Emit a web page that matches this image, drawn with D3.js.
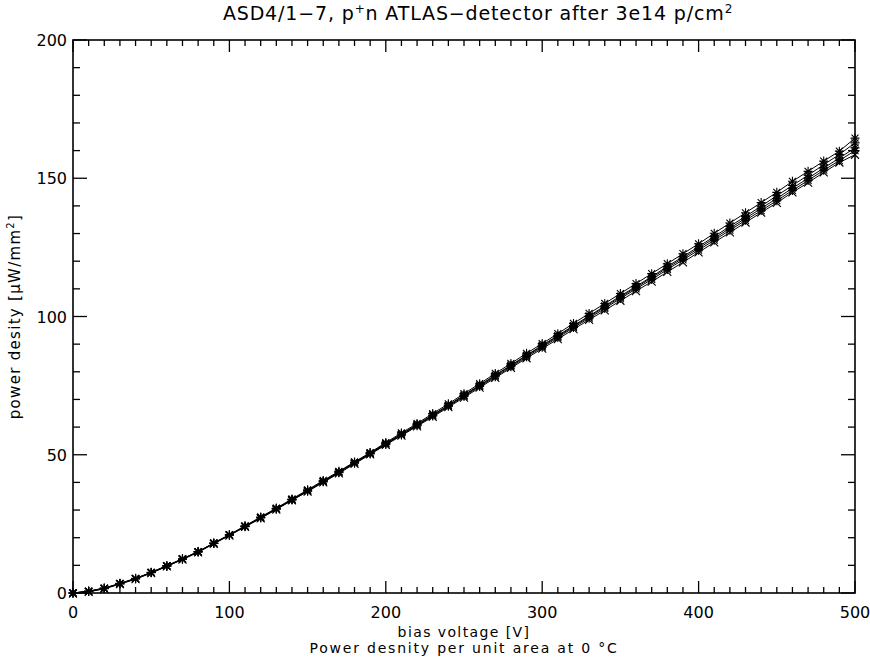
<!DOCTYPE html>
<html lang="en">
<head>
<meta charset="utf-8">
<style>
  body { margin: 0; background: #fff; }
  svg { display: block; }
  text { font-family: "DejaVu Sans", sans-serif; fill: #000; }
</style>
</head>
<body>
<svg width="870" height="659"></svg>
<script src="https://cdn.jsdelivr.net/npm/d3@7"></script>
<script>
// bias voltage [V]
var voltage = [0, 10, 20, 30, 40, 50, 60, 70, 80, 90, 100, 110, 120, 130, 140, 150, 160, 170, 180, 190,
  200, 210, 220, 230, 240, 250, 260, 270, 280, 290, 300, 310, 320, 330, 340, 350, 360, 370, 380, 390,
  400, 410, 420, 430, 440, 450, 460, 470, 480, 490, 500]

// power density [uW/mm2], one array per diode
var diodeA = [0, 0.7, 1.8, 3.5, 5.3, 7.5, 9.9, 12.4, 15.0, 18.1, 21.1, 24.3, 27.5, 30.7, 34.0, 37.3, 40.7, 44.0, 47.4, 50.8,
  54.4, 57.9, 61.3, 64.9, 68.4, 72.1, 75.7, 79.4, 83.0, 86.7, 90.2, 93.8, 97.5, 101.1, 104.7, 108.3, 111.9, 115.5, 119.1, 122.7,
  126.3, 130.1, 133.8, 137.5, 141.2, 144.9, 148.9, 152.5, 156.2, 159.8, 164.5]
var diodeB = [0, 0.6, 1.7, 3.4, 5.2, 7.4, 9.8, 12.3, 14.9, 18.0, 21.0, 24.1, 27.3, 30.5, 33.8, 37.0, 40.4, 43.8, 47.2, 50.6,
  54.1, 57.5, 60.9, 64.4, 67.9, 71.6, 75.2, 78.8, 82.4, 86.0, 89.6, 93.1, 96.7, 100.2, 103.8, 107.4, 110.9, 114.4, 118.1, 121.6,
  125.3, 128.9, 132.6, 136.2, 139.9, 143.7, 147.4, 151.1, 154.9, 158.6, 162.8]
var diodeC = [0, 0.6, 1.7, 3.4, 5.2, 7.4, 9.8, 12.3, 14.9, 18.0, 21.0, 24.1, 27.3, 30.5, 33.8, 37.0, 40.4, 43.7, 47.1, 50.5,
  54.0, 57.4, 60.8, 64.3, 67.8, 71.4, 75.0, 78.6, 82.2, 85.8, 89.3, 92.8, 96.4, 99.9, 103.4, 107.0, 110.5, 114.0, 117.6, 121.1,
  124.7, 128.3, 131.9, 135.5, 139.1, 142.7, 146.4, 150.0, 153.7, 157.3, 161.0]
var diodeD = [0, 0.5, 1.6, 3.3, 5.1, 7.3, 9.7, 12.2, 14.8, 17.9, 20.9, 24.0, 27.1, 30.3, 33.6, 36.8, 40.2, 43.5, 46.9, 50.3,
  53.7, 57.1, 60.5, 64.0, 67.5, 71.1, 74.7, 78.2, 81.8, 85.4, 88.9, 92.4, 96.0, 99.4, 102.9, 106.5, 110.0, 113.4, 117.0, 120.5,
  124.0, 127.6, 131.2, 134.8, 138.3, 141.9, 145.6, 149.2, 152.9, 156.4, 160.0]
var diodeE = [-0.2, 0.4, 1.5, 3.2, 5.0, 7.2, 9.6, 12.1, 14.7, 17.8, 20.8, 23.9, 27.0, 30.2, 33.5, 36.7, 40.0, 43.3, 46.7, 50.1,
  53.6, 56.9, 60.3, 63.7, 67.2, 70.7, 74.3, 77.8, 81.4, 84.9, 88.4, 91.8, 95.4, 98.8, 102.2, 105.7, 109.2, 112.6, 116.1, 119.6,
  123.2, 126.8, 130.4, 134.0, 137.6, 141.1, 144.9, 148.4, 152.1, 155.7, 158.5]

var xTicks = [0, 100, 200, 300, 400, 500]
var yTicks = [0, 50, 100, 150, 200]

var series = [
  { values: diodeA, marker: 'star' },
  { values: diodeB, marker: 'star' },
  { values: diodeC, marker: 'star' },
  { values: diodeD, marker: 'star' },
  { values: diodeE, marker: 'cross' }
]

var svg = d3.select('svg')
var margin = { top: 40, right: 15, bottom: 66, left: 73 }
var width = 870 - margin.left - margin.right
var height = 659 - margin.top - margin.bottom
var g = svg.append('g').attr('transform', 'translate(' + margin.left + ',' + margin.top + ')')

var x = d3.scaleLinear().domain([0, 500]).range([0, width])
var y = d3.scaleLinear().domain([0, 200]).range([height, 0])

var minorX = d3.range(0, 501, 10)
var minorY = d3.range(0, 201, 10)

// ticks on all four sides, pointing inward (IDL style)
var ticks = g.append('g').attr('stroke', '#000').attr('stroke-width', 1.3)
minorX.forEach(function (v) {
  var len = v % 100 === 0 ? 12 : 6
  ticks.append('line').attr('x1', x(v)).attr('x2', x(v)).attr('y1', height).attr('y2', height - len)
  ticks.append('line').attr('x1', x(v)).attr('x2', x(v)).attr('y1', 0).attr('y2', len)
})
minorY.forEach(function (v) {
  var len = v % 50 === 0 ? 14 : 7
  ticks.append('line').attr('y1', y(v)).attr('y2', y(v)).attr('x1', 0).attr('x2', len)
  ticks.append('line').attr('y1', y(v)).attr('y2', y(v)).attr('x1', width).attr('x2', width - len)
})

g.append('rect')
  .attr('width', width).attr('height', height)
  .attr('fill', 'none').attr('stroke', '#000').attr('stroke-width', 1.6)

// tick labels
g.selectAll('.xl').data(xTicks).enter().append('text')
  .attr('x', function (d) { return x(d) }).attr('y', height + 25)
  .attr('text-anchor', 'middle').attr('font-size', 16)
  .text(function (d) { return d })

g.selectAll('.yl').data(yTicks).enter().append('text')
  .attr('x', -6).attr('y', function (d) { return y(d) + 6 })
  .attr('text-anchor', 'end').attr('font-size', 16)
  .text(function (d) { return d })

// curves
var line = d3.line()
  .x(function (d, i) { return x(voltage[i]) })
  .y(function (d) { return y(d) })

var curves = g.append('g')
series.forEach(function (s) {
  curves.append('path')
    .attr('d', line(s.values))
    .attr('fill', 'none').attr('stroke', '#000').attr('stroke-width', 1)

  var m = curves.append('g').selectAll('path').data(s.values).enter().append('path')
    .attr('transform', function (d, i) { return 'translate(' + x(voltage[i]) + ',' + y(d) + ')' })
    .attr('fill', 'none').attr('stroke', '#000').attr('stroke-width', 1.1)
  if (s.marker === 'star') {
    m.attr('d', 'M-4.5,0H4.5M0,-4.5V4.5M-3.5,-3.5L3.5,3.5M-3.5,3.5L3.5,-3.5')
  } else {
    m.attr('d', 'M-4,-4L4,4M-4,4L4,-4')
  }
})

// titles
var title = svg.append('text')
  .attr('x', 478).attr('y', 20)
  .attr('text-anchor', 'middle').attr('font-size', 19)
  .style('letter-spacing', '0.85px')
title.append('tspan').text('ASD4/1\u22127, p')
title.append('tspan').attr('dy', -7).attr('font-size', 12).text('+')
title.append('tspan').attr('dy', 7).text('n ATLAS\u2212detector after 3e14 p/cm')
title.append('tspan').attr('dy', -7).attr('font-size', 12).text('2')

svg.append('text')
  .attr('x', margin.left + width / 2).attr('y', 637)
  .attr('text-anchor', 'middle').attr('font-size', 14)
  .style('letter-spacing', '1.4px')
  .text('bias voltage [V]')

svg.append('text')
  .attr('x', margin.left + width / 2).attr('y', 653)
  .attr('text-anchor', 'middle').attr('font-size', 14)
  .style('letter-spacing', '1.8px')
  .text('Power desnity per unit area at 0 \u00b0C')

var yt = svg.append('text')
  .attr('transform', 'translate(20,' + (margin.top + height / 2) + ') rotate(-90)')
  .attr('text-anchor', 'middle').attr('font-size', 15)
  .style('letter-spacing', '1.3px')
yt.append('tspan').text('power desity [\u03bcW/mm')
yt.append('tspan').attr('dy', -6).attr('font-size', 10).text('2')
yt.append('tspan').attr('dy', 6).text(']')
</script>
</body>
</html>
